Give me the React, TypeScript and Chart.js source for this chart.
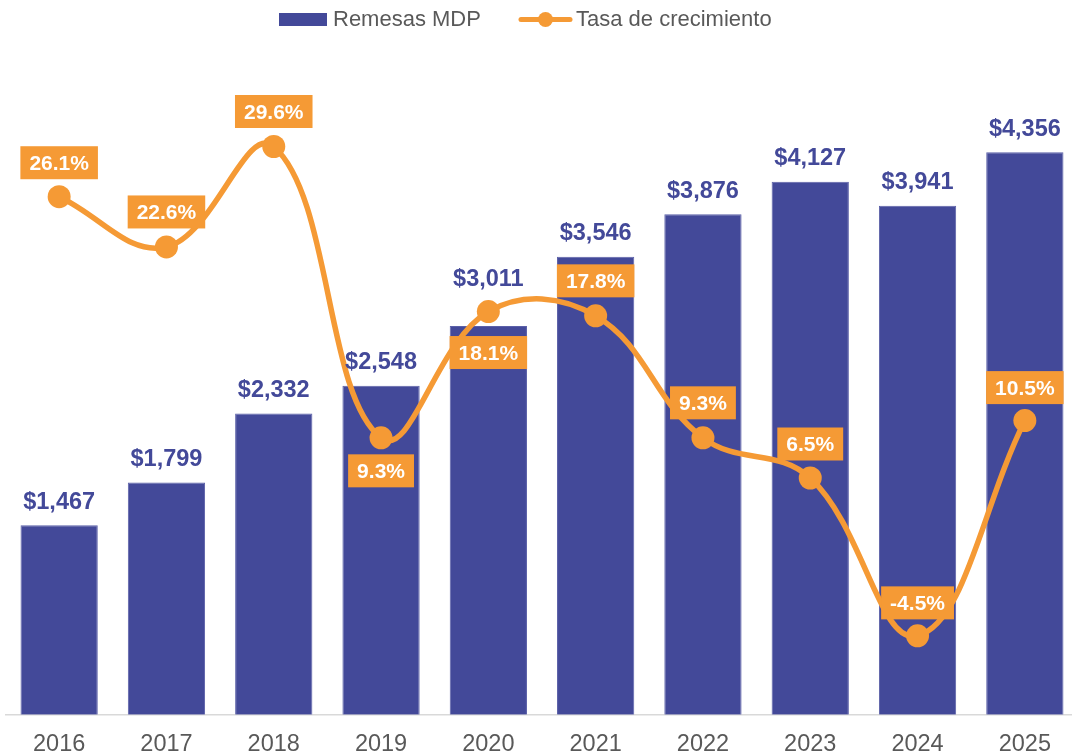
import React, { useEffect, useRef } from "react";
import { Chart, registerables } from "chart.js";

Chart.register(...registerables);

const years = ["2016", "2017", "2018", "2019", "2020", "2021", "2022", "2023", "2024", "2025"];
const remesas = [1467, 1799, 2332, 2548, 3011, 3546, 3876, 4127, 3941, 4356];
const crecimiento = [26.1, 22.6, 29.6, 9.3, 18.1, 17.8, 9.3, 6.5, -4.5, 10.5];

const seriesNames = ["Remesas MDP", "Tasa de crecimiento"];

const BLUE = "#434999";
const ORANGE = "#F59A35";
const GRAY = "#595959";
const FONT = "'Liberation Sans', Arial, Helvetica, sans-serif";

// label placement tweaks (presentation only)
const lineLabelOffset = [-34, -35, -35, 33, 41, -35, -35, -34, -33, -33];
const barLabelOffset = [-23, -23, -23, -23, -46, -23, -23, -23, -23, -23];

const labelsPlugin = {
  id: "customLabels",
  afterDatasetsDraw(chart: any) {
    const ctx = chart.ctx;
    const barMeta = chart.getDatasetMeta(0);
    const lineMeta = chart.getDatasetMeta(1);
    ctx.save();
    ctx.textAlign = "center";
    ctx.textBaseline = "middle";
    ctx.font = `bold 23.5px ${FONT}`;
    ctx.fillStyle = BLUE;
    barMeta.data.forEach((el: any, i: number) => {
      const txt = "$" + remesas[i].toLocaleString("en-US");
      ctx.fillText(txt, el.x, el.y + barLabelOffset[i]);
    });
    ctx.font = `bold 21px ${FONT}`;
    lineMeta.data.forEach((el: any, i: number) => {
      const txt = crecimiento[i].toFixed(1) + "%";
      const w = ctx.measureText(txt).width + 18;
      const h = 33;
      const cy = el.y + lineLabelOffset[i];
      ctx.fillStyle = ORANGE;
      ctx.fillRect(el.x - w / 2, cy - h / 2, w, h);
      ctx.fillStyle = "#FFFFFF";
      ctx.fillText(txt, el.x, cy + 1.5);
    });
    ctx.restore();
  },
};

const legendPlugin = {
  id: "customLegend",
  afterDraw(chart: any) {
    const ctx = chart.ctx;
    ctx.save();
    ctx.font = `22px ${FONT}`;
    ctx.textBaseline = "middle";
    ctx.textAlign = "left";
    const cy = 19.5;
    ctx.fillStyle = BLUE;
    ctx.fillRect(279, cy - 6.5, 48, 13);
    ctx.fillStyle = GRAY;
    ctx.fillText(seriesNames[0], 333, cy);
    ctx.strokeStyle = ORANGE;
    ctx.lineWidth = 5;
    ctx.lineCap = "round";
    ctx.beginPath();
    ctx.moveTo(521, cy);
    ctx.lineTo(570, cy);
    ctx.stroke();
    ctx.fillStyle = ORANGE;
    ctx.beginPath();
    ctx.arc(545.5, cy, 7.5, 0, Math.PI * 2);
    ctx.fill();
    ctx.fillStyle = GRAY;
    ctx.fillText(seriesNames[1], 576, cy);
    ctx.restore();
  },
};

export default function App() {
  const ref = useRef<HTMLCanvasElement>(null);
  useEffect(() => {
    if (!ref.current) return;
    const chart = new Chart(ref.current, {
      type: "bar",
      data: {
        labels: years,
        datasets: [
          {
            type: "bar",
            label: seriesNames[0],
            data: remesas,
            backgroundColor: BLUE,
            borderColor: "#5B60A8",
            borderWidth: 1,
            barPercentage: 0.72,
            categoryPercentage: 1,
            yAxisID: "y",
            order: 2,
          },
          {
            type: "line",
            label: seriesNames[1],
            data: crecimiento,
            borderColor: ORANGE,
            backgroundColor: ORANGE,
            borderWidth: 5.5,
            pointRadius: 11.5,
            pointBackgroundColor: ORANGE,
            pointBorderWidth: 0,
            tension: 0.4,
            clip: false,
            yAxisID: "y1",
            order: 1,
          } as any,
        ],
      },
      options: {
        responsive: false,
        devicePixelRatio: 1,
        animation: false,
        layout: { autoPadding: false, padding: { left: 5.5, right: 5.5, top: 69, bottom: 0 } },
        plugins: {
          legend: { display: false },
          tooltip: { enabled: false },
        },
        scales: {
          x: {
            offset: true,
            grid: { display: false },
            border: { display: true, color: "#D9D9D9", width: 1.5 },
            ticks: {
              color: GRAY,
              font: { family: FONT, size: 23.5 },
              padding: 8,
            },
          },
          y: { display: false, min: 0, max: 5000 },
          y1: { display: false, min: -10, max: 35, position: "right" },
        },
      },
      plugins: [labelsPlugin, legendPlugin],
    });
    return () => chart.destroy();
  }, []);
  return (
    <div
      style={{
        position: "fixed",
        left: 0,
        top: 0,
        width: 1072,
        height: 755,
        overflow: "hidden",
        background: "#fff",
      }}
    >
      <canvas ref={ref} width={1084} height={767} style={{ display: "block" }} />
    </div>
  );
}
